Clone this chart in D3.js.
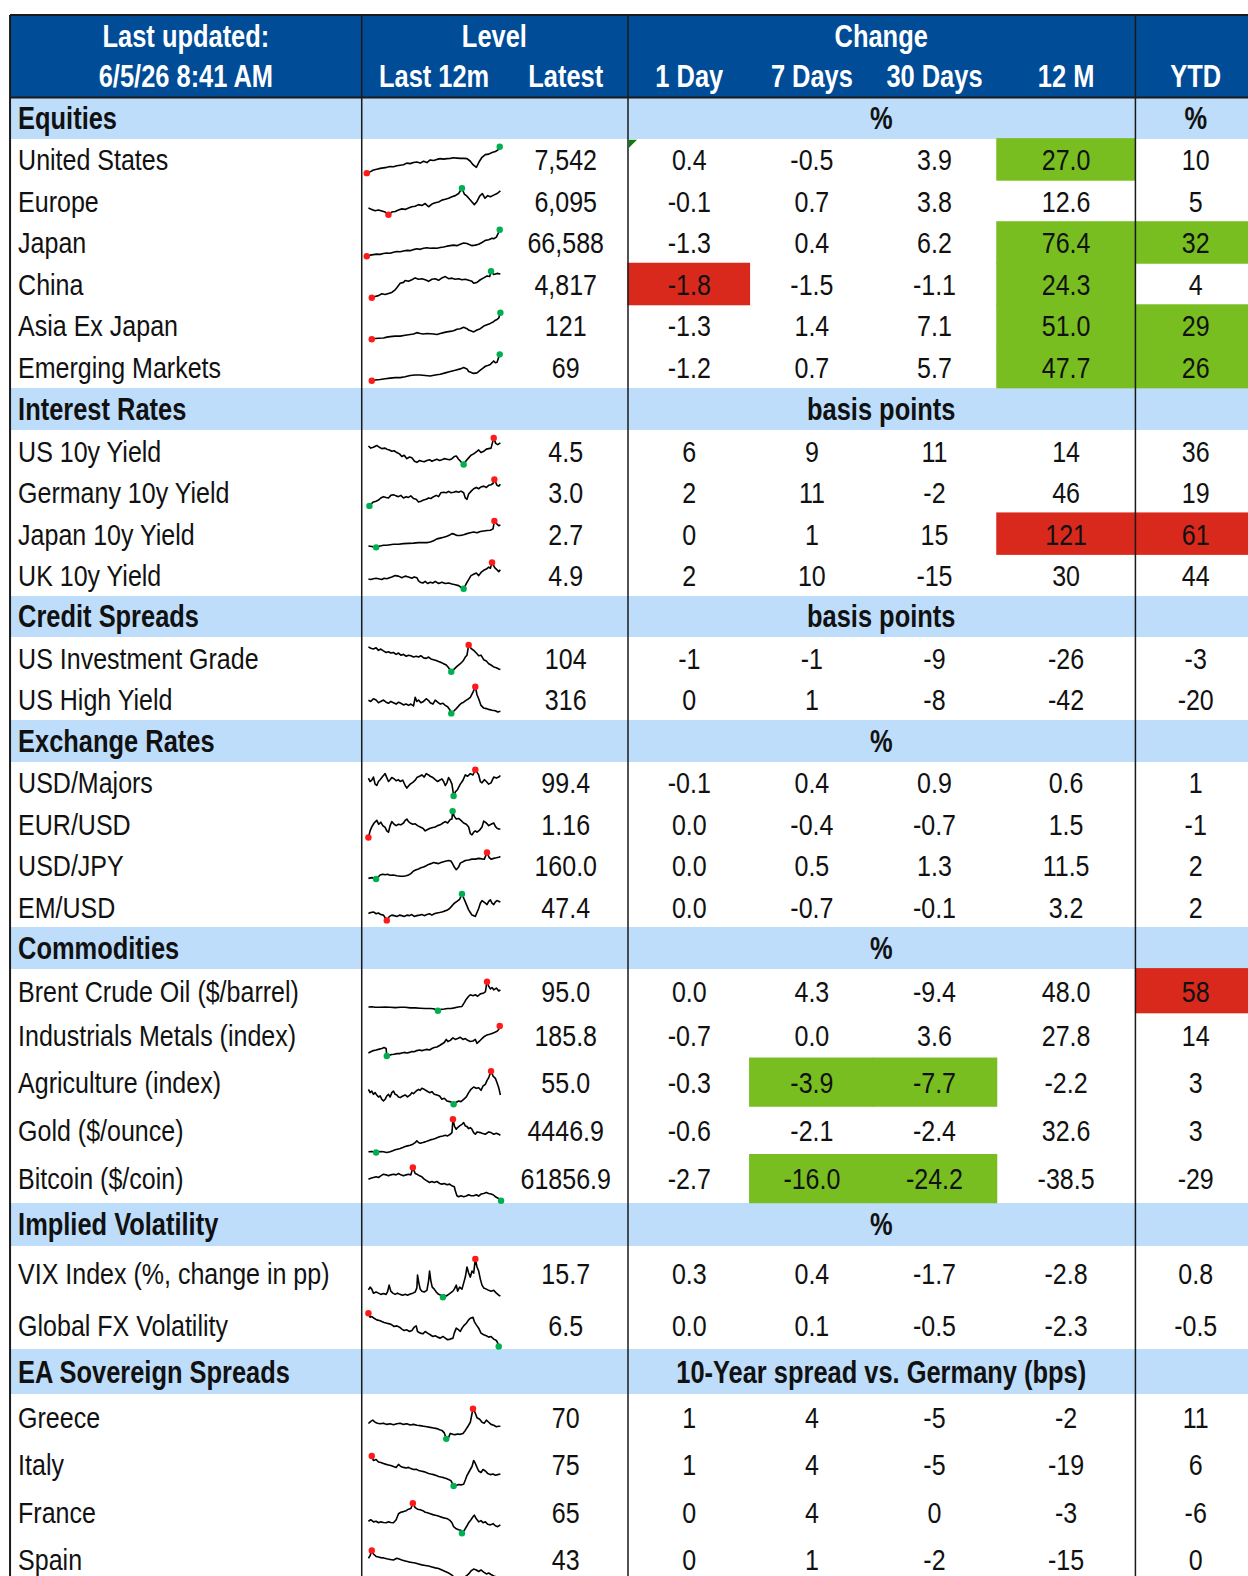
<!DOCTYPE html>
<html><head><meta charset="utf-8">
<script src="https://cdn.jsdelivr.net/npm/d3@7"></script>
<style>
body{margin:0;background:#fff}
text{font-family:'Liberation Sans',Arial,sans-serif}
</style>
</head><body>
<svg id="chart" width="1248" height="1576"></svg>
<script>
// ---------------- DATA ----------------
const headerTitle = ["Last updated:", "6/5/26 8:41 AM"];
const levelColumns = ["Last 12m", "Latest"];
const changeColumns = ["1 Day", "7 Days", "30 Days", "12 M", "YTD"];

const sections = ["Equities","Interest Rates","Credit Spreads","Exchange Rates","Commodities","Implied Volatility","EA Sovereign Spreads"];
const sectionUnits = ["%","basis points","basis points","%","%","%","10-Year spread vs. Germany (bps)"];
const sectionYtdUnits = ["%","","","","","",""];
const sectionDecimals = [1,0,0,1,1,1,0];
const sectionYtdDecimals = [0,0,0,0,0,1,0];

const rowSection = [0,0,0,0,0,0, 1,1,1,1, 2,2, 3,3,3,3, 4,4,4,4,4, 5,5, 6,6,6,6];
const rowLabels = ["United States","Europe","Japan","China","Asia Ex Japan","Emerging Markets",
  "US 10y Yield","Germany 10y Yield","Japan 10y Yield","UK 10y Yield",
  "US Investment Grade","US High Yield",
  "USD/Majors","EUR/USD","USD/JPY","EM/USD",
  "Brent Crude Oil ($/barrel)","Industrials Metals (index)","Agriculture (index)","Gold ($/ounce)","Bitcoin ($/coin)",
  "VIX Index (%, change in pp)","Global FX Volatility",
  "Greece","Italy","France","Spain"];
const latestValues = [7542,6095,66588,4817,121,69, 4.5,3.0,2.7,4.9, 104,316, 99.4,1.16,160.0,47.4, 95.0,185.8,55.0,4446.9,61856.9, 15.7,6.5, 70,75,65,43];
const latestFormats = [",.0f",",.0f",",.0f",",.0f",",.0f",",.0f", ".1f",".1f",".1f",".1f", ".0f",".0f", ".1f",".2f",".1f",".1f", ".1f",".1f",".1f",".1f",".1f", ".1f",".1f", ".0f",".0f",".0f",".0f"];

const change1D  = [0.4,-0.1,-1.3,-1.8,-1.3,-1.2, 6,2,0,2, -1,0, -0.1,0.0,0.0,0.0, 0.0,-0.7,-0.3,-0.6,-2.7, 0.3,0.0, 1,1,0,0];
const change7D  = [-0.5,0.7,0.4,-1.5,1.4,0.7, 9,11,1,10, -1,1, 0.4,-0.4,0.5,-0.7, 4.3,0.0,-3.9,-2.1,-16.0, 0.4,0.1, 4,4,4,1];
const change30D = [3.9,3.8,6.2,-1.1,7.1,5.7, 11,-2,15,-15, -9,-8, 0.9,-0.7,1.3,-0.1, -9.4,3.6,-7.7,-2.4,-24.2, -1.7,-0.5, -5,-5,0,-2];
const change12M = [27.0,12.6,76.4,24.3,51.0,47.7, 14,46,121,30, -26,-42, 0.6,1.5,11.5,3.2, 48.0,27.8,-2.2,32.6,-38.5, -2.8,-2.3, -2,-19,-3,-15];
const changeYTD = [10,5,32,4,29,26, 36,19,61,44, -3,-20, 1,-1,2,2, 58,14,3,3,-29, 0.8,-0.5, 11,6,-6,0];

const highlightCells = [
  ["United States","12 M","g"],["Japan","12 M","g"],["China","12 M","g"],["Asia Ex Japan","12 M","g"],["Emerging Markets","12 M","g"],
  ["Japan","YTD","g"],["Asia Ex Japan","YTD","g"],["Emerging Markets","YTD","g"],
  ["China","1 Day","r"],
  ["Japan 10y Yield","12 M","r"],["Japan 10y Yield","YTD","r"],
  ["Brent Crude Oil ($/barrel)","YTD","r"],
  ["Agriculture (index)","7 Days","g"],["Agriculture (index)","30 Days","g"],
  ["Bitcoin ($/coin)","7 Days","g"],["Bitcoin ($/coin)","30 Days","g"]
];

// colour of the marker at the series high ("g" green / "r" red); the low gets the other
const sparkHighColor = ["g","g","g","g","g","g", "r","r","r","r", "r","r", "r","g","r","g", "r","r","r","r","r", "r","r", "r","r","r","r"];

// last 12 months, [time step, relative level 0-100]
const sparkData = [
 [[0,0],[10,5],[20,12],[30,15],[40,18],[50,20],[60,22],[70,25],[80,24],[90,28],[100,30],[110,32],[120,38],[130,36],[140,40],[150,42],[160,38],[170,45],[180,40],[190,50],[200,48],[210,52],[220,55],[230,53],[240,55],[250,56],[260,58],[270,57],[280,56],[290,56],[300,55],[310,45],[318,32],[328,22],[336,42],[345,60],[355,70],[365,72],[375,78],[385,82],[393,88],[398,100]],
 [[5,25],[15,20],[25,15],[35,18],[45,14],[55,10],[65,0],[75,10],[85,12],[95,18],[105,22],[115,20],[125,25],[135,30],[145,32],[155,38],[165,35],[175,42],[185,30],[195,40],[205,45],[215,48],[225,55],[235,58],[245,62],[255,68],[265,72],[275,80],[285,100],[292,78],[300,70],[308,58],[315,48],[322,38],[330,50],[338,70],[346,80],[354,62],[362,72],[370,68],[380,74],[390,80],[400,90]],
 [[0,0],[10,4],[20,6],[30,8],[40,7],[50,10],[60,12],[70,11],[80,15],[90,18],[100,17],[110,20],[120,22],[130,21],[140,25],[150,28],[160,26],[170,30],[180,32],[190,30],[200,31],[210,30],[220,33],[230,35],[240,38],[250,40],[260,42],[270,40],[280,45],[290,50],[300,48],[305,45],[315,40],[325,42],[335,45],[345,52],[355,60],[365,62],[375,68],[380,66],[388,72],[393,85],[398,100]],
 [[15,0],[25,5],[35,8],[45,15],[55,12],[65,16],[75,20],[85,30],[90,38],[100,55],[110,58],[115,65],[125,62],[135,68],[145,75],[155,70],[165,72],[175,68],[185,62],[195,70],[205,72],[215,66],[225,75],[235,80],[245,72],[255,74],[265,70],[275,72],[285,68],[295,70],[305,66],[315,62],[320,55],[330,58],[340,68],[350,75],[360,82],[368,80],[372,100],[380,88],[390,92],[400,90]],
 [[15,0],[25,3],[35,4],[50,5],[60,8],[70,10],[85,12],[100,12],[115,15],[130,18],[140,20],[150,25],[160,22],[170,20],[180,22],[190,21],[200,20],[210,18],[220,22],[230,25],[240,28],[250,30],[260,32],[270,38],[280,40],[290,45],[300,40],[305,35],[315,30],[320,28],[330,35],[340,40],[350,50],[360,55],[370,60],[378,65],[385,72],[390,75],[395,80],[400,100]],
 [[15,0],[25,3],[40,5],[55,8],[70,10],[85,12],[100,12],[115,15],[130,20],[145,22],[160,22],[175,20],[190,18],[205,22],[220,25],[235,30],[250,35],[265,40],[280,45],[290,50],[300,45],[305,35],[315,30],[320,28],[330,30],[340,40],[348,48],[355,55],[362,58],[370,62],[380,75],[385,68],[390,70],[398,100]],
 [[5,70],[12,62],[20,65],[30,72],[38,65],[45,60],[55,62],[60,58],[68,55],[75,50],[82,52],[90,45],[98,40],[105,30],[112,35],[120,22],[128,28],[135,25],[143,12],[150,8],[158,15],[165,12],[172,10],[180,15],[188,18],[195,12],[202,16],[210,20],[218,15],[225,18],[232,22],[240,20],[248,18],[255,22],[262,30],[268,32],[275,20],[282,10],[290,0],[298,15],[305,25],[312,35],[320,40],[328,48],[335,55],[342,45],[350,50],[358,58],[365,60],[372,62],[380,100],[386,80],[392,75],[400,82]],
 [[8,0],[15,10],[20,15],[28,18],[35,22],[42,30],[50,35],[58,32],[65,30],[72,40],[80,42],[88,38],[95,35],[102,40],[110,30],[118,35],[125,32],[132,38],[140,28],[148,25],[155,15],[162,18],[170,22],[178,25],[185,30],[192,28],[200,35],[208,40],[215,35],[222,50],[230,52],[238,50],[245,55],[252,50],[260,52],[268,55],[275,52],[282,56],[290,50],[295,30],[300,25],[305,45],[312,55],[320,65],[328,70],[335,65],[342,72],[350,75],[358,70],[365,78],[372,80],[378,85],[382,100],[390,78],[395,75],[400,82]],
 [[5,5],[15,3],[28,0],[40,5],[50,8],[60,8],[70,10],[80,12],[95,12],[110,14],[125,15],[140,16],[155,18],[170,18],[180,18],[190,20],[200,25],[210,32],[220,35],[230,38],[240,42],[250,48],[255,52],[262,50],[270,45],[280,45],[290,48],[300,52],[310,55],[320,58],[330,55],[340,60],[350,62],[360,64],[370,65],[378,70],[382,100],[390,88],[395,82],[400,85]],
 [[5,37],[12,35],[20,38],[28,40],[35,38],[45,35],[52,40],[60,38],[68,42],[75,45],[85,50],[95,48],[105,42],[115,48],[125,45],[135,40],[142,45],[150,42],[155,30],[160,25],[168,22],[175,28],[182,20],[190,25],[198,22],[205,28],[215,20],[225,25],[235,20],[245,22],[255,18],[265,15],[275,12],[283,5],[290,0],[298,20],[305,35],[312,50],[320,55],[328,60],[335,50],[342,62],[350,70],[358,75],[365,82],[370,78],[375,100],[383,80],[390,72],[395,65],[400,72]],
 [[5,93],[12,88],[20,85],[28,90],[35,80],[42,85],[50,78],[58,72],[65,75],[72,70],[80,72],[88,65],[95,70],[102,62],[110,65],[118,58],[125,62],[132,60],[140,55],[148,58],[155,55],[162,60],[170,52],[178,50],[185,55],[192,48],[200,45],[208,42],[215,38],[222,35],[230,30],[238,25],[245,15],[253,0],[260,8],[270,20],[280,30],[288,40],[295,55],[300,62],[305,100],[312,88],[320,80],[328,70],[335,60],[342,62],[350,45],[358,40],[365,30],[372,25],[380,18],[388,15],[395,10],[400,8]],
 [[5,49],[12,45],[20,55],[28,50],[35,40],[42,45],[50,50],[58,42],[65,38],[72,45],[80,40],[88,35],[95,42],[102,38],[110,32],[118,35],[125,30],[132,35],[140,28],[145,60],[150,45],[155,50],[162,40],[170,45],[178,55],[185,48],[190,40],[198,35],[205,50],[212,42],[220,35],[228,38],[235,30],[242,25],[248,15],[253,0],[260,8],[268,18],[275,28],[283,38],[290,42],[298,50],[305,55],[310,60],[318,80],[325,100],[330,70],[335,55],[342,30],[350,20],[358,18],[365,15],[375,12],[385,10],[392,5],[400,8]],
 [[5,68],[10,55],[15,60],[20,72],[25,45],[30,40],[35,55],[40,62],[48,75],[55,85],[60,70],[65,55],[70,62],[75,70],[82,65],[88,58],[95,62],[100,55],[108,60],[115,40],[120,30],[125,38],[130,45],[138,52],[145,60],[150,70],[158,75],[165,80],[172,72],[178,85],[185,80],[190,75],[198,70],[205,62],[212,55],[218,60],[225,65],[230,55],[235,40],[240,50],[245,70],[250,60],[255,45],[258,20],[260,0],[265,15],[272,25],[280,45],[288,60],[295,80],[302,75],[310,85],[318,80],[325,100],[330,90],[335,80],[340,55],[345,50],[352,62],[358,55],[365,45],[372,50],[380,72],[388,68],[395,72],[400,78]],
 [[5,0],[10,25],[15,40],[22,55],[30,65],[36,50],[42,58],[48,45],[55,38],[60,25],[65,20],[70,45],[75,60],[82,50],[88,45],[95,50],[102,48],[110,55],[115,65],[120,70],[125,60],[130,55],[138,50],[145,52],[152,45],[160,40],[168,35],[175,25],[182,30],[190,35],[198,38],[205,40],[212,45],[220,48],[228,55],[235,60],[242,55],[250,68],[255,70],[257,100],[262,80],[268,70],[275,72],[282,65],[290,55],[298,50],[305,40],[310,15],[315,10],[320,20],[325,25],[330,20],[338,28],[345,40],[350,62],[358,55],[365,45],[372,50],[380,55],[385,42],[390,35],[395,32],[400,32]],
 [[5,2],[15,5],[28,0],[35,8],[40,15],[48,18],[55,16],[62,18],[70,14],[80,15],[90,12],[100,10],[110,10],[118,12],[125,15],[132,20],[140,30],[148,35],[155,38],[162,42],[170,45],[178,50],[185,55],[192,58],[200,62],[208,60],[215,58],[222,62],[230,65],[238,68],[245,70],[252,68],[258,55],[262,45],[268,35],[275,45],[280,60],[288,65],[295,70],[305,72],[315,75],[325,75],[335,78],[345,76],[352,75],[360,100],[366,82],[372,75],[380,78],[388,80],[395,82],[400,85]],
 [[5,26],[12,30],[20,32],[28,25],[35,28],[42,22],[50,20],[55,10],[60,0],[68,15],[75,20],[82,18],[90,15],[98,20],[105,18],[112,15],[120,20],[128,18],[135,22],[142,15],[150,18],[158,20],[165,22],[172,18],[180,22],[188,25],[195,20],[202,25],[210,28],[218,30],[225,32],[232,35],[240,38],[248,45],[255,55],[262,65],[270,72],[278,80],[285,100],[290,85],[295,70],[300,55],[305,40],[310,30],[315,20],[320,18],[325,15],[330,30],[335,45],[340,65],[345,75],[350,70],[355,65],[360,60],[365,72],[370,78],[375,65],[380,60],[385,70],[390,75],[395,72],[400,70]],
 [[5,13],[15,14],[25,12],[40,12],[55,13],[70,12],[85,11],[100,12],[115,12],[130,10],[145,10],[160,9],[175,8],[190,8],[200,7],[213,0],[222,5],[232,6],[242,8],[252,8],[262,10],[270,12],[278,14],[285,15],[292,28],[298,40],[305,50],[310,55],[318,52],[325,55],[332,50],[340,58],[348,60],[355,65],[360,100],[365,85],[370,75],[375,80],[380,72],[388,78],[395,68],[400,72]],
 [[5,10],[12,14],[20,18],[28,20],[35,22],[45,25],[52,28],[58,25],[60,0],[68,3],[75,5],[82,6],[90,8],[98,8],[105,10],[112,12],[120,10],[128,12],[135,15],[142,14],[150,18],[158,20],[165,18],[172,20],[180,22],[188,20],[195,25],[202,28],[210,30],[218,35],[225,40],[232,45],[238,55],[243,48],[250,52],[258,60],[265,55],[272,58],[280,62],[288,55],[295,58],[302,52],[310,48],[318,50],[325,55],[330,42],[338,50],[345,58],[352,65],[360,70],[368,72],[375,75],[382,78],[390,82],[395,88],[398,100]],
 [[5,45],[10,35],[15,40],[20,30],[25,35],[30,28],[35,22],[40,25],[45,15],[50,10],[55,15],[60,25],[65,30],[70,22],[75,35],[80,40],[85,30],[90,28],[95,22],[100,20],[108,25],[115,28],[122,22],[130,28],[135,35],[140,32],[148,40],[155,45],[160,42],[165,48],[172,45],[180,40],[188,35],[195,38],[202,30],[210,28],[218,25],[225,15],[232,18],[240,10],[248,8],[255,5],[260,0],[268,6],[275,10],[282,8],[290,15],[298,22],[305,35],[312,45],[320,52],[328,48],[335,50],[342,42],[348,55],[355,60],[360,72],[365,80],[372,100],[378,85],[385,78],[390,65],[395,50],[400,28]],
 [[5,2],[15,3],[28,0],[40,3],[50,2],[60,0],[70,2],[78,5],[85,8],[92,10],[100,12],[108,15],[115,18],[122,20],[130,22],[138,25],[145,30],[150,35],[155,30],[160,28],[168,30],[175,32],[182,35],[190,38],[198,40],[205,42],[212,45],[220,48],[228,50],[235,52],[242,50],[250,55],[255,60],[258,100],[263,78],[268,70],[272,75],[278,80],[285,85],[290,90],[295,80],[300,78],[305,72],[310,75],[315,70],[320,60],[325,55],[330,62],[340,60],[345,58],[355,55],[365,62],[372,60],[380,55],[388,58],[395,55],[400,52]],
 [[5,65],[12,68],[20,70],[28,72],[35,70],[42,75],[50,80],[58,78],[65,75],[72,78],[80,80],[88,78],[95,82],[102,78],[110,75],[118,78],[125,80],[132,78],[138,100],[145,82],[150,80],[158,75],[165,72],[172,65],[180,60],[188,55],[195,58],[202,55],[210,58],[218,52],[225,50],[232,52],[240,48],[248,50],[255,45],[262,42],[265,30],[270,15],[275,12],[282,15],[290,12],[298,14],[305,18],[312,15],[320,15],[328,18],[335,14],[342,20],[350,22],[358,25],[365,22],[372,20],[378,18],[385,12],[392,8],[398,5],[402,0]],
 [[5,23],[10,30],[15,25],[20,15],[28,18],[35,15],[42,12],[50,14],[58,12],[62,18],[67,35],[72,20],[78,15],[85,12],[92,15],[100,12],[108,10],[115,12],[122,10],[130,13],[138,15],[145,18],[150,28],[152,60],[156,40],[160,25],[165,20],[172,18],[180,22],[185,45],[188,70],[192,45],[196,30],[202,25],[208,18],[215,12],[222,10],[228,5],[232,10],[238,8],[245,12],[250,15],[258,20],[262,25],[268,35],[272,20],[278,30],[285,25],[290,40],[295,55],[300,80],[305,65],[310,55],[315,70],[320,65],[325,100],[330,80],[335,70],[340,50],[345,35],[350,28],[358,25],[365,22],[372,20],[380,22],[388,15],[395,10],[400,8]],
 [[5,100],[10,88],[15,90],[22,85],[30,80],[38,78],[45,75],[52,72],[60,70],[68,68],[75,65],[82,60],[90,62],[98,58],[105,52],[112,48],[120,50],[128,45],[135,48],[142,58],[148,62],[152,45],[160,40],[168,38],[175,45],[182,40],[190,35],[198,30],[205,32],[212,28],[220,25],[228,30],[235,25],[242,20],[250,22],[258,25],[262,40],[268,55],[275,50],[280,45],[285,55],[290,62],[298,70],[305,80],[310,85],[318,88],[322,75],[328,65],[335,55],[342,40],[350,35],[358,32],[365,28],[372,30],[380,22],[388,18],[392,10],[395,0]],
 [[5,51],[12,58],[18,62],[25,55],[32,52],[40,50],[50,52],[60,48],[70,50],[80,47],[90,50],[100,52],[110,48],[120,50],[130,46],[140,48],[150,45],[160,44],[170,42],[180,40],[190,38],[200,36],[210,34],[218,30],[225,28],[232,20],[238,0],[245,5],[250,18],[258,15],[265,14],[272,16],[280,15],[288,18],[295,28],[302,40],[310,55],[318,100],[325,85],[330,70],[338,65],[345,55],[352,52],[358,62],[365,55],[372,48],[380,45],[388,40],[395,42],[400,42]],
 [[15,100],[20,85],[28,88],[35,80],[42,78],[50,75],[58,72],[65,70],[72,68],[80,65],[88,62],[95,72],[102,65],[110,62],[118,60],[125,62],[132,58],[140,55],[148,56],[155,52],[162,50],[170,48],[178,45],[185,42],[192,40],[200,38],[208,35],[215,32],[222,30],[230,28],[238,25],[245,22],[252,18],[260,0],[268,2],[275,5],[282,4],[290,6],[295,20],[300,35],[305,45],[310,55],[315,65],[320,85],[325,75],[330,62],[335,50],[342,45],[348,55],[355,50],[362,42],[370,38],[378,40],[385,36],[392,38],[400,40]],
 [[5,40],[12,45],[20,38],[28,40],[35,35],[42,38],[50,36],[58,35],[65,38],[72,36],[80,35],[88,45],[95,65],[102,70],[110,72],[118,75],[125,80],[132,82],[138,100],[145,85],[152,80],[160,78],[168,75],[175,70],[182,68],[190,65],[198,62],[205,60],[212,58],[220,55],[228,52],[235,50],[242,48],[250,42],[255,35],[260,22],[268,15],[275,12],[282,10],[285,0],[292,10],[300,25],[305,35],[312,45],[318,55],[322,60],[328,48],[335,38],[342,42],[348,35],[355,38],[362,30],[370,28],[378,32],[385,25],[392,22],[400,28]],
 [[5,74],[10,82],[15,100],[20,88],[28,80],[35,78],[42,76],[50,75],[60,72],[70,70],[80,68],[90,74],[95,72],[105,68],[115,65],[125,62],[135,60],[145,58],[155,55],[165,52],[175,50],[185,48],[195,45],[205,42],[215,40],[225,35],[235,30],[245,25],[255,18],[262,10],[268,0],[275,5],[282,8],[290,10],[298,15],[305,22],[312,32],[320,38],[328,35],[335,30],[342,35],[350,28],[358,22],[365,25],[372,20],[380,15],[388,12],[395,12],[400,12]]
];

// ---------------- LAYOUT ----------------
const W = 1248, H = 1576;
const UNIT = 1.0048; // layout below measured in 1242-wide units
const C = {
  dark: "#004C97", light: "#BDDDFB", green: "#78BE20", red: "#D8291C",
  dotRed: "#FF1A1A", dotGreen: "#00B050", text: "#111", line: "#1a1a1a"
};
const tableLeft = 10, tableTop = 15, headerH = 82;
const RW = W / UNIT, RH = H / UNIT;
const xDiv = [360, 625, 1130];
const sectionHeadH = [41, 42, 41, 41, 41, 43, 44];
const sectionRowH = [[41.33],[41.25],[41.5],[41.25],[44,45,48,48,48],[54,49],[47]];
const sparkPad = [[8,7],[8,7],[8,7],[8,7],[13,2],[13,3],[15,2]];
const cellBounds = {"1 Day":[625,746],"7 Days":[746,869],"30 Days":[869,992],"12 M":[992,1130],"YTD":[1130,RW]};
const colCenter = {"1 Day":686,"7 Days":808,"30 Days":930,"12 M":1061,"YTD":1190};
const latestX = 563, labelX = 18;
const FS = 30, FSB = 30.5, NARROW = 0.83, DY = "0.36em";

const svg = d3.select("#chart").append("g").attr("transform", `scale(${UNIT})`);
const fmt = (f, v) => d3.format(f)(v).replace(/\u2212/g, "-");
function txt(g, x, y, s, anchor) {
  return g.append("text").attr("transform", `translate(${x},${y}) scale(${NARROW},1)`)
    .attr("dy", DY).attr("text-anchor", anchor || "start").text(s);
}

// compute row geometry
let yPos = tableTop + headerH;
const sectionBands = [];
const rows = [];
let ri = 0;
sections.forEach((s, si) => {
  sectionBands.push({name: s, y0: yPos, y1: yPos + sectionHeadH[si], si});
  yPos += sectionHeadH[si];
  const n = rowSection.filter(d => d === si).length;
  for (let k = 0; k < n; k++) {
    const hs = sectionRowH[si];
    const h = hs.length > 1 ? hs[k] : hs[0];
    rows.push({i: ri, si, y0: yPos, y1: yPos + h});
    yPos += h; ri++;
  }
});

// header background
svg.append("rect").attr("x", tableLeft).attr("y", tableTop).attr("width", RW - tableLeft).attr("height", headerH).attr("fill", C.dark);

// section bands
svg.selectAll("rect.band").data(sectionBands).join("rect")
  .attr("class","band").attr("x", tableLeft).attr("y", d => d.y0).attr("width", RW - tableLeft).attr("height", d => d.y1 - d.y0)
  .attr("fill", C.light).attr("shape-rendering", "crispEdges");

// highlight cells (slightly overlapped so adjacent cells merge without seams)
const rowByLabel = {};
rows.forEach(r => rowByLabel[rowLabels[r.i]] = r);
svg.selectAll("rect.hl").data(highlightCells).join("rect")
  .attr("class","hl")
  .attr("x", d => cellBounds[d[1]][0] - 0.5).attr("y", d => rowByLabel[d[0]].y0 - 0.5)
  .attr("width", d => cellBounds[d[1]][1] - cellBounds[d[1]][0] + 1)
  .attr("height", d => rowByLabel[d[0]].y1 - rowByLabel[d[0]].y0 + 1)
  .attr("fill", d => d[2] === "g" ? C.green : C.red);

// header texts
const hdr = svg.append("g").attr("fill", "#fff").attr("font-weight", "bold").attr("font-size", FSB);
const r1 = tableTop + 21, r2 = tableTop + 61;
txt(hdr, 185, r1, headerTitle[0], "middle");
txt(hdr, 185, r2, headerTitle[1], "middle");
txt(hdr, 492, r1, "Level", "middle");
txt(hdr, 432, r2, levelColumns[0], "middle");
txt(hdr, latestX, r2, levelColumns[1], "middle");
txt(hdr, 877, r1, "Change", "middle");
changeColumns.forEach(c => txt(hdr, colCenter[c], r2, c, "middle"));

// section texts
const sg = svg.append("g").attr("font-weight", "bold").attr("font-size", FSB).attr("fill", C.text);
sectionBands.forEach(b => {
  const cy = (b.y0 + b.y1) / 2;
  txt(sg, labelX, cy, b.name);
  txt(sg, 877, cy, sectionUnits[b.si], "middle");
  if (sectionYtdUnits[b.si]) txt(sg, colCenter["YTD"], cy, sectionYtdUnits[b.si], "middle");
});

// data rows
const dg = svg.append("g").attr("font-size", FS).attr("fill", C.text);
const changeArrays = {"1 Day": change1D, "7 Days": change7D, "30 Days": change30D, "12 M": change12M, "YTD": changeYTD};
rows.forEach(r => {
  const cy = (r.y0 + r.y1) / 2;
  txt(dg, labelX, cy, rowLabels[r.i]);
  txt(dg, latestX, cy, fmt(latestFormats[r.i], latestValues[r.i]), "middle");
  changeColumns.forEach(c => {
    const dec = c === "YTD" ? sectionYtdDecimals[r.si] : sectionDecimals[r.si];
    txt(dg, colCenter[c], cy, fmt("." + dec + "f", changeArrays[c][r.i]), "middle");
  });
});

// sparklines
const xs = d3.scaleLinear().domain([0, 400]).range([365, 498]);
const spg = svg.append("g");
rows.forEach(r => {
  const data = sparkData[r.i];
  const pad = sparkPad[r.si];
  const ys = d3.scaleLinear().domain(d3.extent(data, d => d[1])).range([r.y1 - pad[1], r.y0 + pad[0]]);
  const line = d3.line().x(d => xs(d[0])).y(d => ys(d[1]));
  spg.append("path").attr("d", line(data)).attr("fill", "none").attr("stroke", "#000")
    .attr("stroke-width", 1.6).attr("stroke-linejoin", "round");
  const hi = data[d3.maxIndex(data, d => d[1])];
  const lo = data[d3.minIndex(data, d => d[1])];
  const hiC = sparkHighColor[r.i] === "g" ? C.dotGreen : C.dotRed;
  const loC = sparkHighColor[r.i] === "g" ? C.dotRed : C.dotGreen;
  spg.append("circle").attr("cx", xs(hi[0])).attr("cy", ys(hi[1])).attr("r", 3.2).attr("fill", hiC);
  spg.append("circle").attr("cx", xs(lo[0])).attr("cy", ys(lo[1])).attr("r", 3.2).attr("fill", loC);
});

// comment indicator
const us = rowByLabel["United States"];
svg.append("path").attr("d", `M${xDiv[1]+1},${us.y0+1} l8,0 l-8,8 Z`).attr("fill", "#0a7d0a");

// grid lines
const lg = svg.append("g").attr("stroke", C.line);
lg.append("line").attr("x1", tableLeft).attr("x2", RW).attr("y1", tableTop).attr("y2", tableTop).attr("stroke-width", 2);
lg.append("line").attr("x1", tableLeft).attr("x2", tableLeft).attr("y1", tableTop).attr("y2", RH).attr("stroke-width", 2);
lg.append("line").attr("x1", tableLeft).attr("x2", RW).attr("y1", tableTop + headerH).attr("y2", tableTop + headerH).attr("stroke-width", 2);
xDiv.forEach(x => lg.append("line").attr("x1", x).attr("x2", x).attr("y1", tableTop).attr("y2", RH).attr("stroke-width", 1.5));
</script>
</body></html>
